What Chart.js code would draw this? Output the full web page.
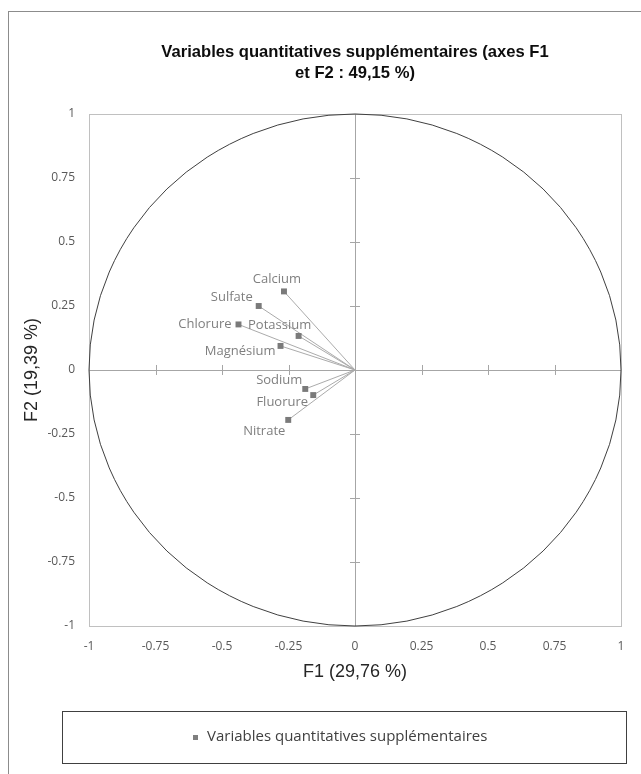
<!DOCTYPE html>
<html lang="fr">
<head>
<meta charset="UTF-8">
<title>Variables quantitatives supplémentaires</title>
<script src="https://cdn.jsdelivr.net/npm/chart.js@4.4.1/dist/chart.umd.min.js"></script>
<style>
    body { margin: 0; background: #fff; }
    #wrap { width: 641px; height: 774px; }
</style>
</head>
<body>
<div id="wrap"><canvas id="cercle" width="641" height="774"></canvas></div>
<script>
// coordonnées des variables sur F1 / F2
const variables = ['Calcium', 'Sulfate', 'Chlorure', 'Potassium', 'Magnésium', 'Sodium', 'Fluorure', 'Nitrate'];
const f1 = [-0.267, -0.362, -0.438, -0.212, -0.280, -0.187, -0.157, -0.251];
const f2 = [0.307, 0.250, 0.178, 0.133, 0.094, -0.074, -0.098, -0.195];

const tickValues = [-1, -0.75, -0.5, -0.25, 0, 0.25, 0.5, 0.75, 1];
const tickLabels = ['-1', '-0.75', '-0.5', '-0.25', '0', '0.25', '0.5', '0.75', '1'];

const serieNom = 'Variables quantitatives supplémentaires';
const titre = ['Variables quantitatives supplémentaires (axes F1', 'et F2 : 49,15 %)'];
const titreX = 'F1 (29,76 %)';
const titreY = 'F2 (19,39 %)';

// placement des étiquettes (façon Excel)
const labelPos = {
    'Calcium':   { dx: -7,  dy: -12, align: 'center' },
    'Sulfate':   { dx: -6,  dy: -9,  align: 'right' },
    'Chlorure':  { dx: -7,  dy: 0,   align: 'right' },
    'Potassium': { dx: -19, dy: -11, align: 'center' },
    'Magnésium': { dx: -5,  dy: 5,   align: 'right' },
    'Sodium':    { dx: -26, dy: -9,  align: 'center' },
    'Fluorure':  { dx: -31, dy: 7,   align: 'center' },
    'Nitrate':   { dx: -24, dy: 11,  align: 'center' }
};

const points = variables.map((v, i) => ({ x: f1[i], y: f2[i] }));

function crisp(v) { return Math.round(v) + 0.5; }

const decor = {
    id: 'decor',
    beforeDraw(chart) {
        const ctx = chart.ctx;
        ctx.save();
        ctx.fillStyle = '#fff';
        ctx.fillRect(0, 0, chart.width, chart.height);
        // cadre extérieur
        ctx.strokeStyle = '#8c8c8c';
        ctx.lineWidth = 1;
        ctx.strokeRect(8.5, 11.5, 800, 900);
        ctx.restore();
    },
    beforeDatasetsDraw(chart) {
        const ctx = chart.ctx;
        const a = chart.chartArea;
        const xs = chart.scales.x, ys = chart.scales.y;
        const cx = xs.getPixelForValue(0), cy = ys.getPixelForValue(0);
        ctx.save();
        // bord de la zone de tracé
        ctx.strokeStyle = '#c0c0c0';
        ctx.lineWidth = 1;
        ctx.strokeRect(crisp(a.left), crisp(a.top), Math.round(a.right - a.left), Math.round(a.bottom - a.top));

        // axes passant par l'origine
        ctx.strokeStyle = '#a6a6a6';
        ctx.beginPath();
        ctx.moveTo(a.left, crisp(cy)); ctx.lineTo(a.right, crisp(cy));
        ctx.moveTo(crisp(cx), a.top); ctx.lineTo(crisp(cx), a.bottom);
        tickValues.forEach(v => {
            if (v === 0 || Math.abs(v) === 1) return;
            const px = crisp(xs.getPixelForValue(v));
            const py = crisp(ys.getPixelForValue(v));
            ctx.moveTo(px, cy - 5); ctx.lineTo(px, cy + 5);
            ctx.moveTo(cx - 5, py); ctx.lineTo(cx + 5, py);
        });
        ctx.stroke();

        // cercle des corrélations
        ctx.strokeStyle = '#404040';
        ctx.beginPath();
        ctx.ellipse(cx, cy, xs.getPixelForValue(1) - cx, cy - ys.getPixelForValue(1), 0, 0, Math.PI * 2);
        ctx.stroke();

        // vecteurs depuis l'origine
        ctx.strokeStyle = '#ababab';
        ctx.beginPath();
        points.forEach(p => {
            ctx.moveTo(cx, cy);
            ctx.lineTo(xs.getPixelForValue(p.x), ys.getPixelForValue(p.y));
        });
        ctx.stroke();
        ctx.restore();
    },
    afterDatasetsDraw(chart) {
        const ctx = chart.ctx;
        const xs = chart.scales.x, ys = chart.scales.y;
        ctx.save();
        ctx.font = '13px "Open Sans"';
        ctx.fillStyle = '#7f7f7f';
        ctx.textBaseline = 'middle';
        variables.forEach((name, i) => {
            const pos = labelPos[name];
            ctx.textAlign = pos.align;
            ctx.fillText(name, xs.getPixelForValue(f1[i]) + pos.dx, ys.getPixelForValue(f2[i]) + pos.dy);
        });

        // légende encadrée
        ctx.strokeStyle = '#404040';
        ctx.lineWidth = 1;
        ctx.strokeRect(62.5, 711.5, 564, 52);
        ctx.fillStyle = '#7f7f7f';
        ctx.fillRect(193, 735, 5, 5);
        ctx.font = '15px "Open Sans"';
        ctx.fillStyle = '#404040';
        ctx.textAlign = 'left';
        ctx.fillText(chart.data.datasets[0].label, 207, 737);
        ctx.restore();
    }
};

const tickFont = { family: 'Open Sans', size: 12 };

new Chart(document.getElementById('cercle'), {
    type: 'scatter',
    data: {
        datasets: [{
            label: serieNom,
            data: points,
            pointStyle: 'rect',
            pointRadius: 4.2,
            pointHoverRadius: 4.2,
            borderWidth: 0,
            backgroundColor: '#7a7a7a'
        }]
    },
    options: {
        responsive: false,
        animation: false,
        events: [],
        layout: { padding: { left: 21, right: 20, top: 0, bottom: 91 } },
        plugins: {
            legend: { display: false },
            tooltip: { enabled: false },
            title: {
                display: true,
                fullSize: false,
                text: titre,
                color: '#0d0d0d',
                font: { family: 'Liberation Sans', size: 16.6, weight: 'bold', lineHeight: 1.265 },
                padding: { top: 41.5, bottom: 30.5 }
            }
        },
        scales: {
            x: {
                type: 'linear',
                min: -1,
                max: 1,
                grid: { display: false, drawTicks: false },
                border: { display: false },
                afterBuildTicks: s => { s.ticks = tickValues.map(v => ({ value: v })); },
                afterFit: s => { s.height = 57; },
                ticks: {
                    padding: 13,
                    color: '#595959',
                    font: tickFont,
                    maxRotation: 0,
                    callback: (v, i) => tickLabels[i]
                },
                title: {
                    display: true,
                    text: titreX,
                    color: '#262626',
                    font: { family: 'Liberation Sans', size: 18 },
                    padding: 0
                }
            },
            y: {
                type: 'linear',
                min: -1,
                max: 1,
                grid: { display: false, drawTicks: false },
                border: { display: false },
                afterBuildTicks: s => { s.ticks = tickValues.map(v => ({ value: v })); },
                afterFit: s => { s.width = 68; },
                ticks: {
                    padding: 14,
                    color: '#595959',
                    font: tickFont,
                    callback: (v, i) => tickLabels[i]
                },
                title: {
                    display: true,
                    text: titreY,
                    color: '#262626',
                    font: { family: 'Liberation Sans', size: 18 },
                    padding: 0
                }
            }
        }
    },
    plugins: [decor]
});
</script>
</body>
</html>
